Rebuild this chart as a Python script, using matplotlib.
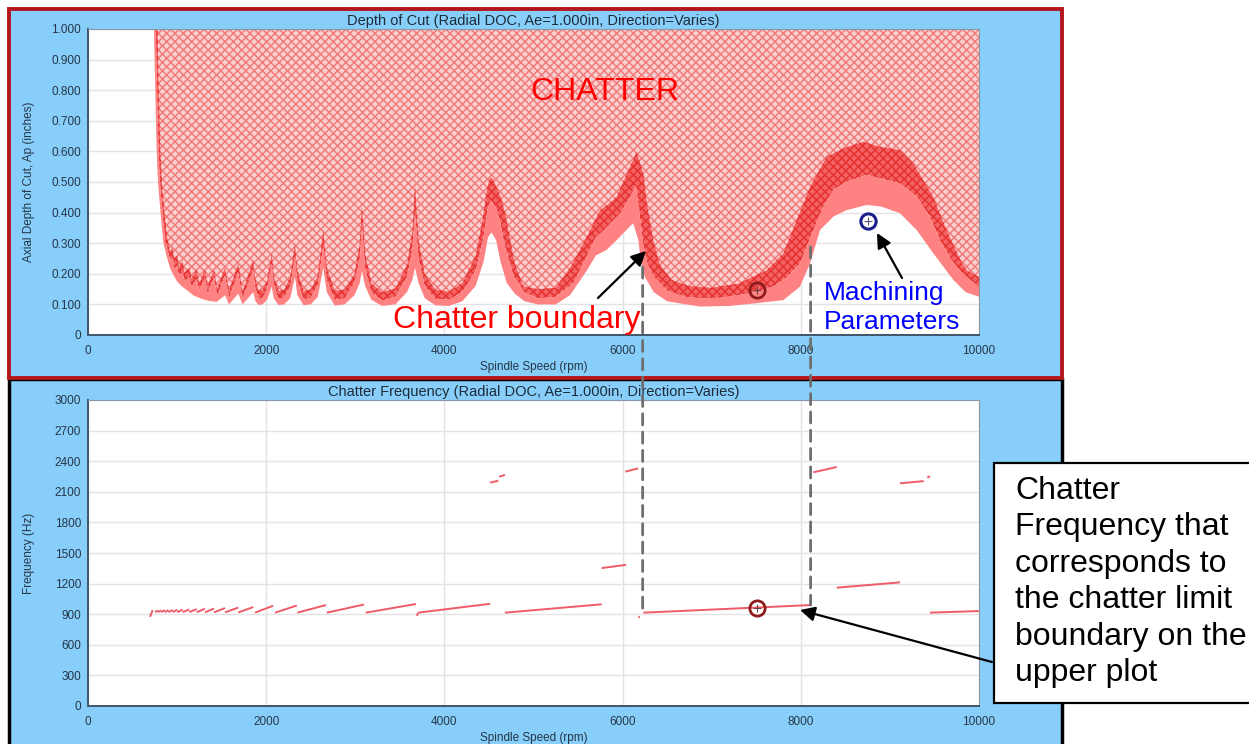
import matplotlib
matplotlib.use("Agg")
import matplotlib.pyplot as plt
from matplotlib.patches import Rectangle, ConnectionPatch, FancyArrowPatch

plt.rcParams['font.family'] = ['Liberation Sans', 'DejaVu Sans']
plt.rcParams['hatch.linewidth'] = 1.1

# ---------------- data ----------------
# stability limit (middle of the band), (spindle speed rpm, axial depth in)
limit_curve = [
    (760, 1.00), (775, 0.80), (792, 0.60), (808, 0.50), (836, 0.40), (870, 0.30),
    (903, 0.270), (918, 0.245), (950, 0.250), (966, 0.220), (1002, 0.225), (1020, 0.195),
    (1063, 0.205), (1083, 0.175), (1137, 0.190), (1162, 0.158), (1220, 0.185), (1248, 0.145),
    (1313, 0.188), (1343, 0.135), (1414, 0.190), (1450, 0.128), (1538, 0.196), (1582, 0.120),
    (1687, 0.205), (1735, 0.117), (1855, 0.215), (1875, 0.160), (1915, 0.118), (1960, 0.122),
    (2010, 0.150), (2062, 0.232), (2085, 0.165), (2140, 0.117), (2200, 0.122), (2270, 0.160),
    (2323, 0.255), (2350, 0.175), (2420, 0.116), (2500, 0.122), (2580, 0.165), (2640, 0.290),
    (2680, 0.180), (2770, 0.115), (2880, 0.120), (2990, 0.170), (3050, 0.250), (3075, 0.360),
    (3110, 0.220), (3180, 0.140), (3300, 0.112), (3450, 0.125), (3580, 0.190), (3640, 0.280),
    (3670, 0.400), (3710, 0.250), (3780, 0.160), (3900, 0.118), (4050, 0.115), (4200, 0.140),
    (4350, 0.210), (4440, 0.320), (4490, 0.420), (4520, 0.440), (4570, 0.420), (4620, 0.380),
    (4680, 0.290), (4780, 0.190), (4900, 0.140), (5050, 0.120), (5250, 0.125), (5450, 0.170),
    (5600, 0.260), (5700, 0.320), (5780, 0.340), (5880, 0.370), (5980, 0.400), (6080, 0.450),
    (6150, 0.490), (6190, 0.400), (6230, 0.300), (6270, 0.240), (6350, 0.190), (6500, 0.145),
    (6700, 0.125), (6900, 0.120), (7100, 0.122), (7300, 0.130), (7500, 0.140), (7700, 0.160),
    (7850, 0.190), (7991, 0.234), (8141, 0.343), (8253, 0.420), (8366, 0.474), (8478, 0.496),
    (8600, 0.510), (8740, 0.523), (8889, 0.512), (9113, 0.496), (9300, 0.452), (9450, 0.387),
    (9562, 0.310), (9680, 0.250), (9787, 0.210), (9900, 0.180), (10000, 0.158),
]
# upper edge of the uncertainty band
upper_curve = [
    (782, 1.00), (795, 0.80), (812, 0.60), (830, 0.50), (858, 0.40), (890, 0.32),
    (903, 0.300), (918, 0.275), (950, 0.285), (966, 0.250), (1002, 0.260), (1020, 0.225),
    (1063, 0.240), (1083, 0.205), (1137, 0.220), (1162, 0.185), (1220, 0.215), (1248, 0.170),
    (1313, 0.215), (1343, 0.160), (1414, 0.215), (1450, 0.152), (1538, 0.222), (1582, 0.146),
    (1687, 0.235), (1735, 0.142), (1855, 0.246), (1875, 0.190), (1915, 0.145), (1960, 0.148),
    (2010, 0.178), (2062, 0.268), (2085, 0.195), (2140, 0.145), (2200, 0.148), (2270, 0.190),
    (2323, 0.300), (2350, 0.210), (2420, 0.145), (2500, 0.148), (2580, 0.195), (2640, 0.345),
    (2680, 0.220), (2770, 0.145), (2880, 0.148), (2990, 0.200), (3050, 0.300), (3075, 0.430),
    (3110, 0.270), (3180, 0.170), (3300, 0.140), (3450, 0.152), (3580, 0.230), (3640, 0.340),
    (3670, 0.495), (3710, 0.310), (3780, 0.200), (3900, 0.148), (4050, 0.142), (4200, 0.170),
    (4350, 0.260), (4430, 0.380), (4480, 0.480), (4510, 0.515), (4545, 0.510), (4590, 0.480),
    (4640, 0.445), (4690, 0.390), (4740, 0.310), (4790, 0.235), (4885, 0.160), (5050, 0.150),
    (5250, 0.155), (5410, 0.220), (5597, 0.320), (5746, 0.408), (5850, 0.430), (5933, 0.452),
    (6083, 0.550), (6158, 0.599), (6233, 0.528), (6280, 0.420), (6345, 0.310), (6420, 0.230),
    (6550, 0.180), (6750, 0.160), (7000, 0.155), (7300, 0.168), (7617, 0.212), (7804, 0.267),
    (7954, 0.376), (8104, 0.485), (8291, 0.583), (8478, 0.610), (8703, 0.632), (8889, 0.615),
    (9113, 0.605), (9263, 0.561), (9487, 0.452), (9637, 0.343), (9800, 0.240), (9862, 0.212),
    (10000, 0.190),
]
# lower edge of the uncertainty band
lower_curve = [
    (740, 1.00), (755, 0.80), (771, 0.60), (786, 0.50), (814, 0.40), (847, 0.30),
    (880, 0.260), (920, 0.220), (960, 0.195), (1000, 0.175), (1050, 0.160), (1108, 0.147),
    (1180, 0.130), (1257, 0.120), (1350, 0.112), (1444, 0.108), (1538, 0.130), (1582, 0.100),
    (1687, 0.135), (1735, 0.100), (1855, 0.140), (1880, 0.110), (1915, 0.098), (1960, 0.100),
    (2010, 0.115), (2062, 0.158), (2085, 0.120), (2140, 0.097), (2200, 0.100), (2270, 0.120),
    (2323, 0.190), (2350, 0.130), (2420, 0.097), (2500, 0.100), (2580, 0.125), (2640, 0.220),
    (2680, 0.140), (2770, 0.096), (2880, 0.100), (2990, 0.130), (3050, 0.170), (3075, 0.210),
    (3110, 0.160), (3180, 0.115), (3300, 0.095), (3450, 0.100), (3580, 0.140), (3640, 0.180),
    (3670, 0.220), (3710, 0.170), (3780, 0.120), (3900, 0.097), (4050, 0.095), (4200, 0.110),
    (4350, 0.160), (4440, 0.240), (4490, 0.320), (4530, 0.335), (4580, 0.310), (4630, 0.240),
    (4700, 0.170), (4790, 0.135), (4900, 0.110), (5050, 0.100), (5250, 0.100), (5410, 0.130),
    (5597, 0.210), (5700, 0.260), (5820, 0.278), (5933, 0.310), (6083, 0.355), (6120, 0.365),
    (6177, 0.310), (6200, 0.250), (6250, 0.190), (6350, 0.140), (6500, 0.110), (6869, 0.093),
    (7200, 0.095), (7505, 0.104), (7804, 0.114), (7991, 0.158), (8104, 0.234), (8216, 0.343),
    (8366, 0.387), (8515, 0.408), (8740, 0.425), (8900, 0.420), (9113, 0.398), (9300, 0.343),
    (9487, 0.267), (9712, 0.180), (9850, 0.140), (10000, 0.125),
]

# chatter frequency segments: (speed start, freq start, speed end, freq end)
freq_segments = [
    (696, 875, 726, 940),
    (753, 920, 786, 938), (786, 920, 821, 938), (821, 920, 860, 940), (860, 920, 903, 940),
    (903, 920, 950, 942), (950, 920, 1002, 943), (1002, 920, 1063, 945), (1063, 920, 1137, 947),
    (1137, 920, 1220, 950), (1220, 920, 1313, 953), (1313, 918, 1414, 956), (1414, 918, 1538, 960),
    (1538, 918, 1687, 965), (1687, 917, 1855, 970), (1874, 915, 2077, 983), (2099, 915, 2343, 985),
    (2350, 915, 2670, 990), (2680, 915, 3098, 995), (3117, 915, 3681, 1000),
    (3690, 885, 3705, 912), (3705, 915, 4512, 1002),
    (4512, 2190, 4605, 2208), (4615, 2248, 4680, 2266),
    (4680, 915, 5765, 997), (5765, 1352, 6040, 1384), (6030, 2297, 6175, 2330),
    (6177, 868, 6195, 874), (6233, 915, 8122, 990), (8141, 2291, 8403, 2343),
    (8403, 1160, 9113, 1212), (9113, 2183, 9380, 2205), (9420, 2240, 9450, 2252),
    (9450, 915, 10000, 931),
]

# highlighted operating points
machining_point = (8757, 0.372)
chatter_point = (7508, 0.146)
chatter_freq_point = (7508, 960)
boundary_speeds = [6225, 8110]
boundary_depths = [0.222, 0.288]
boundary_freqs = [912, 990]

depth_ticks = [0, 0.1, 0.2, 0.3, 0.4, 0.5, 0.6, 0.7, 0.8, 0.9, 1.0]
depth_tick_labels = ["0", "0.100", "0.200", "0.300", "0.400", "0.500", "0.600",
                     "0.700", "0.800", "0.900", "1.000"]
freq_ticks = [0, 300, 600, 900, 1200, 1500, 1800, 2100, 2400, 2700, 3000]
speed_ticks = [0, 2000, 4000, 6000, 8000, 10000]

# ---------------- figure ----------------
W, H = 1249, 744
fig = plt.figure(figsize=(W / 100, H / 100), dpi=100)
fig.patch.set_facecolor('white')


def F(px, py):
    return (px / W, 1 - py / H)


BLUE = '#87CEFA'
# bottom panel (black frame) then top panel (red frame)
x0, y0 = F(9, 760)
x1, y1 = F(1062, 379)
fig.add_artist(Rectangle((x0, y0), x1 - x0, y1 - y0, transform=fig.transFigure,
                         facecolor=BLUE, edgecolor='black', lw=2.5, zorder=0))
x0, y0 = F(9, 378)
x1, y1 = F(1062, 9)
fig.add_artist(Rectangle((x0, y0), x1 - x0, y1 - y0, transform=fig.transFigure,
                         facecolor=BLUE, edgecolor='#B3161C', lw=2.8, zorder=0))

ax_l, ax_r = 88 / W, 979 / W
ax1 = fig.add_axes([ax_l, 1 - 335 / H, ax_r - ax_l, 306 / H])
ax2 = fig.add_axes([ax_l, 1 - 706 / H, ax_r - ax_l, 306 / H])

TICK_COLOR = '#263646'
for ax in (ax1, ax2):
    ax.set_facecolor('white')
    ax.set_axisbelow(True)
    ax.grid(True, color='#e3e3e3', lw=1.0)
    ax.set_xlim(0, 10000)
    ax.set_xticks(speed_ticks)
    ax.tick_params(length=0, labelsize=8.5, labelcolor=TICK_COLOR, pad=5)
    ax.tick_params(axis='x', pad=7)
    for side in ('top', 'right'):
        ax.spines[side].set_color('#8a98a8')
        ax.spines[side].set_linewidth(0.8)
    for side in ('left', 'bottom'):
        ax.spines[side].set_color('#3f556b')
        ax.spines[side].set_linewidth(1.4)
    ax.set_xlabel('Spindle Speed (rpm)', fontsize=8.5, color=TICK_COLOR)
    ax.xaxis.set_label_coords(0.5, -0.085)

# ---- top: depth of cut ----
ax1.set_ylim(0, 1.0)
ax1.set_yticks(depth_ticks)
ax1.set_yticklabels(depth_tick_labels)
ax1.set_ylabel('Axial Depth of Cut, Ap (inches)', fontsize=8.5, color=TICK_COLOR)
ax1.yaxis.set_label_coords(-0.059, 0.5)
ax1.set_title('Depth of Cut (Radial DOC, Ae=1.000in, Direction=Varies)',
              fontsize=10.5, color='#1e2b38', pad=3)

us = [p[0] for p in upper_curve]
ud = [p[1] for p in upper_curve]
bs = [p[0] for p in limit_curve]
bd = [p[1] for p in limit_curve]
ls = [p[0] for p in lower_curve]
ld = [p[1] for p in lower_curve]

# chatter region above the band
ax1.fill(us + [10000, us[0]], ud + [1.0, 1.0], facecolor='#fbd0d0',
         edgecolor='#f27c7c', hatch='xxxx', lw=0, zorder=1)
# dark (hatched) part of the band
ax1.fill(us + bs[::-1], ud + bd[::-1], facecolor='#f46464',
         edgecolor='#e53232', hatch='xxxx', lw=0, zorder=2)
# light part of the band
ax1.fill(bs + ls[::-1], bd + ld[::-1], facecolor='#ff8282', edgecolor='none',
         lw=0, zorder=2)

ax1.plot(*machining_point, marker='o', ms=11, mfc='none', mec='#1b1f8a', mew=2.2, zorder=5)
ax1.plot(*machining_point, marker='+', ms=6, mec='#555577', mew=0.8, zorder=5)
ax1.plot(*chatter_point, marker='o', ms=11, mfc='none', mec='#8e1c1c', mew=2.0, zorder=5)
ax1.plot(*chatter_point, marker='+', ms=6, mec='#704040', mew=0.8, zorder=5)

# ---- bottom: chatter frequency ----
ax2.set_ylim(0, 3000)
ax2.set_yticks(freq_ticks)
ax2.set_ylabel('Frequency (Hz)', fontsize=8.5, color=TICK_COLOR)
ax2.yaxis.set_label_coords(-0.059, 0.5)
ax2.set_title('Chatter Frequency (Radial DOC, Ae=1.000in, Direction=Varies)',
              fontsize=10.5, color='#1e2b38', pad=3)
for s0, f0, s1, f1 in freq_segments:
    ax2.plot([s0, s1], [f0, f1], color='#ef5b67', lw=1.4, solid_capstyle='butt', zorder=3)
ax2.plot(*chatter_freq_point, marker='o', ms=11, mfc='none', mec='#8e1c1c', mew=2.0, zorder=5)
ax2.plot(*chatter_freq_point, marker='+', ms=6, mec='#704040', mew=0.8, zorder=5)

# ---- dashed connectors between plots ----
for s, d, f in zip(boundary_speeds, boundary_depths, boundary_freqs):
    con = ConnectionPatch(xyA=(s, d), coordsA=ax1.transData, xyB=(s, f), coordsB=ax2.transData,
                          color='#6e6e6e', lw=2.0, linestyle=(0, (4, 2.6)), zorder=10)
    fig.add_artist(con)

# ---- annotations ----
fig.text(*F(605, 92), 'CHATTER', color='#ff0000', fontsize=23, ha='center', va='center')
fig.text(*F(517, 320), 'Chatter boundary', color='#ff0000', fontsize=23, ha='center', va='center')
fig.text(*F(824, 293), 'Machining', color='#0000ff', fontsize=19, ha='left', va='center')
fig.text(*F(824, 322), 'Parameters', color='#0000ff', fontsize=19, ha='left', va='center')


def arrow(p0, p1):
    fig.add_artist(FancyArrowPatch(F(*p0), F(*p1), transform=fig.transFigure,
                                   arrowstyle='-|>', mutation_scale=22, color='black',
                                   lw=1.6, shrinkA=0, shrinkB=0, zorder=12))


arrow((598, 298), (646, 251))
arrow((902, 278), (877, 233))
arrow((992, 662), (800, 610))

# callout box
bx0, by0 = F(994, 703)
bx1, by1 = F(1260, 463)
fig.add_artist(Rectangle((bx0, by0), bx1 - bx0, by1 - by0, transform=fig.transFigure,
                         facecolor='white', edgecolor='black', lw=1.6, zorder=11))
box_lines = ['Chatter', 'Frequency that', 'corresponds to', 'the chatter limit',
             'boundary on the', 'upper plot']
for i, t in enumerate(box_lines):
    fig.text(*F(1015, 491 + i * 36.4), t, color='black', fontsize=23, ha='left',
             va='center', zorder=13)

fig.savefig('out.png', dpi=100)
